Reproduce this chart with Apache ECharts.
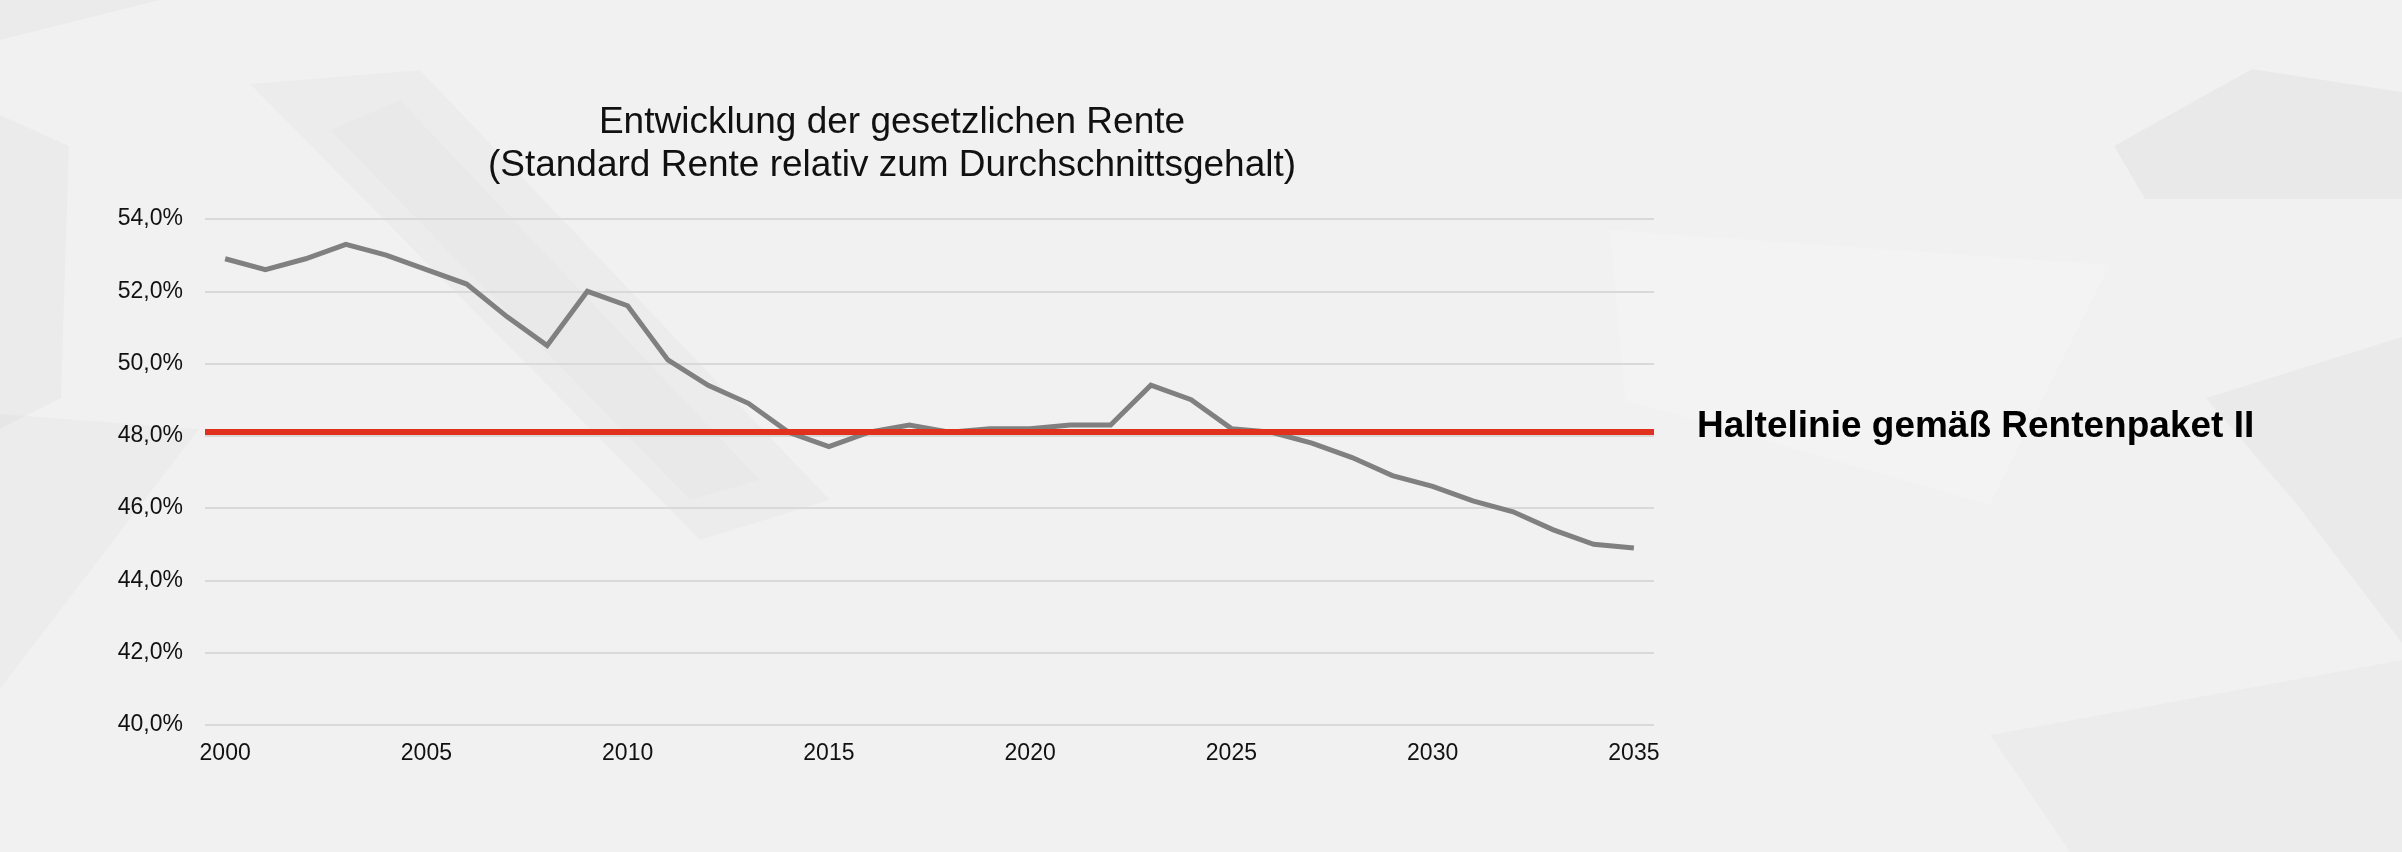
<!DOCTYPE html>
<html>
<head>
    <meta charset="utf-8">
    <title>Entwicklung der gesetzlichen Rente</title>
    <script src="https://cdn.jsdelivr.net/npm/echarts@6/dist/echarts.min.js"></script>
    <style>
        html, body { margin: 0; padding: 0; background: #f1f1f1; }
    </style>
</head>
<body>
<div id="main" style="width: 2402px;height:852px;"></div>
<script type="text/javascript">
    // years on the x axis
    var years = ['2000', '2001', '2002', '2003', '2004', '2005', '2006', '2007', '2008', '2009',
        '2010', '2011', '2012', '2013', '2014', '2015', '2016', '2017', '2018', '2019',
        '2020', '2021', '2022', '2023', '2024', '2025', '2026', '2027', '2028', '2029',
        '2030', '2031', '2032', '2033', '2034', '2035']
    // Standardrente relativ zum Durchschnittsgehalt, in %
    var rentenniveau = [52.9, 52.6, 52.9, 53.3, 53.0, 52.6, 52.2, 51.3, 50.5, 52.0,
        51.6, 50.1, 49.4, 48.9, 48.1, 47.7, 48.1, 48.3, 48.1, 48.2,
        48.2, 48.3, 48.3, 49.4, 49.0, 48.2, 48.1, 47.8, 47.4, 46.9,
        46.6, 46.2, 45.9, 45.4, 45.0, 44.9]
    var haltelinie = 48.1
    var haltelinieText = 'Haltelinie gemäß Rentenpaket II'
    var titleLines = ['Entwicklung der gesetzlichen Rente', '(Standard Rente relativ zum Durchschnittsgehalt)']

    var font = "'Liberation Sans', Arial, sans-serif"

    // soft low-poly background shapes (decoration only)
    var bgShapes = [
        {points: [[250, 84], [420, 70], [830, 500], [700, 540]], fill: 'rgba(0,0,0,0.018)'},
        {points: [[330, 130], [400, 100], [760, 480], [690, 500]], fill: 'rgba(0,0,0,0.012)'},
        {points: [[0, 115], [69, 146], [61, 398], [0, 429]], fill: 'rgba(0,0,0,0.025)'},
        {points: [[0, 414], [199, 429], [0, 689]], fill: 'rgba(0,0,0,0.018)'},
        {points: [[2114, 146], [2252, 69], [2402, 92], [2402, 199], [2145, 199]], fill: 'rgba(0,0,0,0.03)'},
        {points: [[2206, 398], [2402, 337], [2402, 643], [2298, 506]], fill: 'rgba(0,0,0,0.028)'},
        {points: [[1990, 735], [2402, 660], [2402, 852], [2070, 852]], fill: 'rgba(0,0,0,0.018)'},
        {points: [[1610, 230], [2110, 265], [1990, 505], [1625, 400]], fill: 'rgba(255,255,255,0.18)'},
        {points: [[0, 0], [160, 0], [0, 40]], fill: 'rgba(0,0,0,0.025)'}
    ]

    var myChart = echarts.init(document.getElementById('main'));
    var option = {
        backgroundColor: '#f1f1f1',
        animation: false,
        textStyle: {fontFamily: font},
        graphic: bgShapes.map(function (s) {
            return {
                type: 'polygon',
                z: -10,
                silent: true,
                shape: {points: s.points},
                style: {fill: s.fill}
            }
        }),
        title: {
            text: titleLines.join('\n'),
            left: 892,
            top: 101,
            padding: 0,
            textAlign: 'center',
            textStyle: {
                fontFamily: font,
                fontSize: 37,
                fontWeight: 'normal',
                color: '#111',
                lineHeight: 43
            }
        },
        grid: {
            left: 205,
            right: 748,
            top: 219,
            bottom: 127,
            containLabel: false
        },
        xAxis: {
            type: 'category',
            data: years,
            boundaryGap: true,
            axisLine: {show: false},
            axisTick: {show: false},
            axisLabel: {
                interval: 4,
                fontSize: 23,
                margin: 17,
                color: '#111',
                fontFamily: font
            }
        },
        yAxis: {
            type: 'value',
            min: 40,
            max: 54,
            interval: 2,
            axisLine: {show: false},
            axisTick: {show: false},
            splitLine: {lineStyle: {color: '#d9d9d9', width: 2}},
            axisLabel: {
                fontSize: 23,
                margin: 22,
                color: '#111',
                fontFamily: font,
                formatter: function (v) {
                    return v.toFixed(1).replace('.', ',') + '%'
                }
            }
        },
        series: [{
            name: 'Rentenniveau',
            type: 'line',
            data: rentenniveau,
            showSymbol: false,
            symbol: 'none',
            lineStyle: {color: '#808080', width: 5, join: 'miter'},
            itemStyle: {color: '#808080'},
            markLine: {
                silent: true,
                symbol: ['none', 'none'],
                lineStyle: {color: '#e0301e', width: 6, type: 'solid'},
                label: {
                    show: true,
                    position: 'end',
                    distance: 43,
                    formatter: haltelinieText,
                    fontFamily: font,
                    fontSize: 37,
                    fontWeight: 'bold',
                    color: '#000',
                    offset: [0, -5]
                },
                emphasis: {disabled: true},
                data: [{yAxis: haltelinie}]
            }
        }]
    };
    myChart.setOption(option);
</script>
</body>
</html>
